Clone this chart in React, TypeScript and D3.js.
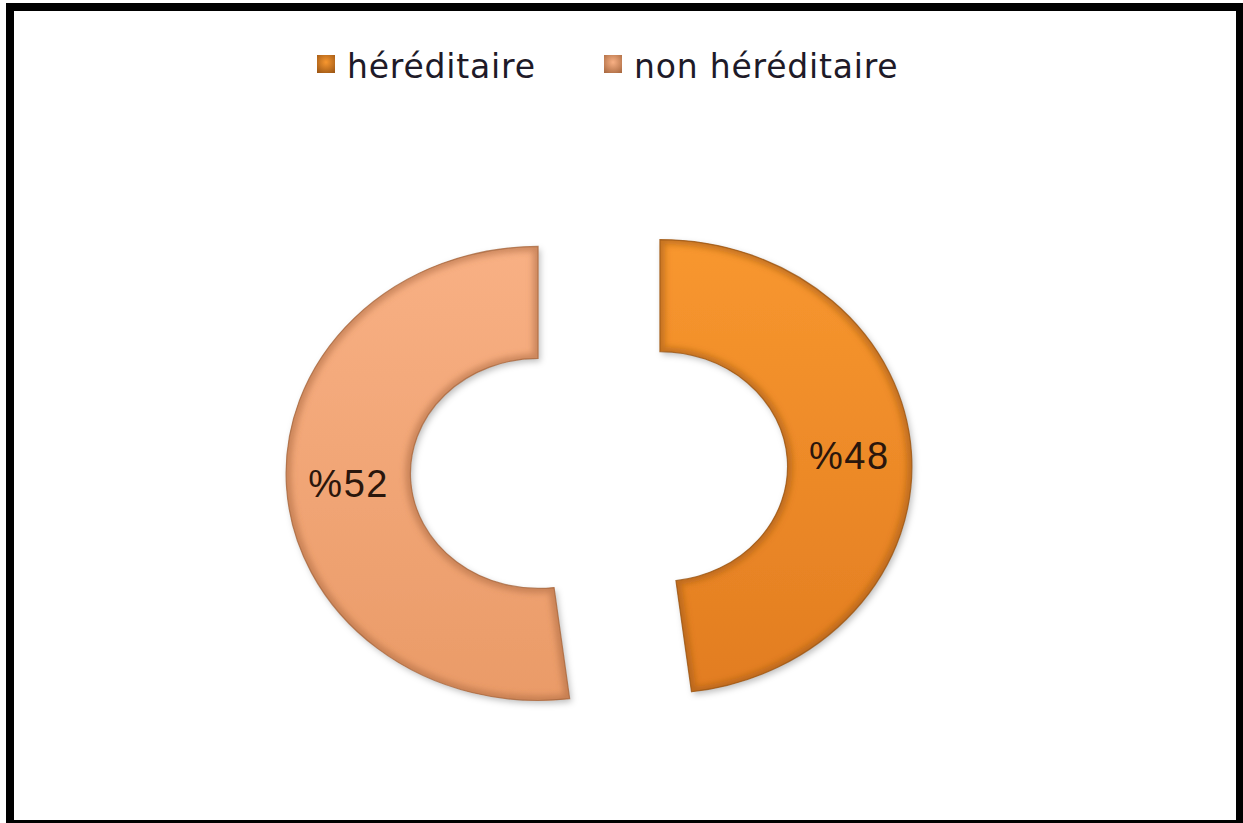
import React from 'react';
import * as d3 from 'd3';

const categories = ['héréditaire', 'non héréditaire'];
const values = [48, 52];
const labels = ['%48', '%52'];

const W = 1243;
const H = 823;
const cx = 599;
const cy = 470;
const sx = 1.11; // the original picture is a little stretched sideways
const outerR = 227;
const innerR = 115;
const explode = 55;

const fills = [
  { top: '#F8972F', bottom: '#E27D21', edge: '#9a5514' },
  { top: '#F8B084', bottom: '#EA9B68', edge: '#a8683f' },
];

function App() {
  const pie = d3
    .pie<number>()
    .sort(null)
    .value((d) => d);
  const arcs = pie(values);

  const arc = d3
    .arc<d3.PieArcDatum<number>>()
    .innerRadius(innerR)
    .outerRadius(outerR);

  const slices = arcs.map((a, i) => {
    const mid = (a.startAngle + a.endAngle) / 2;
    const ox = Math.sin(mid) * explode;
    const oy = -Math.cos(mid) * explode;
    const [lx, ly] = arc.centroid(a);
    return {
      d: arc(a) || '',
      ox,
      oy,
      labelX: cx + (ox + lx) * sx,
      labelY: cy + oy + ly,
      i,
    };
  });

  const legendX = [317, 604];

  return (
    <svg
      width={W}
      height={H}
      style={{ position: 'absolute', left: 0, top: 0, background: '#fff' }}
      fontFamily="'Liberation Sans', Arial, sans-serif"
    >
      <defs>
        {fills.map((f, i) => (
          <linearGradient key={i} id={'grad' + i} x1="0" y1="0" x2="0" y2="1">
            <stop offset="0%" stopColor={f.top} />
            <stop offset="100%" stopColor={f.bottom} />
          </linearGradient>
        ))}
        {fills.map((f, i) => (
          <radialGradient key={'lg' + i} id={'lgrad' + i} cx="50%" cy="40%" r="75%">
            <stop offset="0%" stopColor={f.top} />
            <stop offset="100%" stopColor={f.edge} />
          </radialGradient>
        ))}
        <filter id="shadow" x="-20%" y="-20%" width="140%" height="140%">
          <feDropShadow dx="2" dy="3" stdDeviation="3" floodColor="#000" floodOpacity="0.25" />
        </filter>
        <filter id="soft" x="-10%" y="-10%" width="120%" height="120%">
          <feGaussianBlur stdDeviation="3" />
        </filter>
        {slices.map((s) => (
          <clipPath key={s.i} id={'clip' + s.i}>
            <path d={s.d} />
          </clipPath>
        ))}
      </defs>

      <rect x={10} y={7} width={1230} height={817} fill="#fff" stroke="#000" strokeWidth={8} />

      {/* legend */}
      {categories.map((c, i) => (
        <g key={c}>
          <rect
            x={legendX[i]}
            y={55}
            width={18}
            height={18}
            fill={'url(#lgrad' + i + ')'}
          />
          <text
            x={legendX[i] + 30}
            y={78}
            fill="#1e1a28"
            fontFamily="'DejaVu Sans', Verdana, sans-serif"
            style={{ fontSize: 33 }}
            letterSpacing={0.8}
          >
            {c}
          </text>
        </g>
      ))}

      {/* donut */}
      <g transform={`translate(${cx},${cy}) scale(${sx},1)`}>
        {slices.map((s) => (
          <g key={s.i} transform={`translate(${s.ox},${s.oy})`}>
            <path d={s.d} fill={'url(#grad' + s.i + ')'} filter="url(#shadow)" />
            <g clipPath={'url(#clip' + s.i + ')'}>
              <path
                d={s.d}
                fill="none"
                stroke={fills[s.i].edge}
                strokeOpacity={0.55}
                strokeWidth={9}
                filter="url(#soft)"
              />
            </g>
            <path
              d={s.d}
              fill="none"
              stroke={fills[s.i].edge}
              strokeOpacity={0.8}
              strokeWidth={1.2}
              vectorEffect="non-scaling-stroke"
            />
          </g>
        ))}
      </g>

      {slices.map((s) => (
        <text
          key={'l' + s.i}
          x={s.labelX}
          y={s.labelY}
          textAnchor="middle"
          dominantBaseline="central"
          fontSize={38}
          letterSpacing={1.5}
          fill="#2a160c"
        >
          {labels[s.i]}
        </text>
      ))}
    </svg>
  );
}

export default App;
